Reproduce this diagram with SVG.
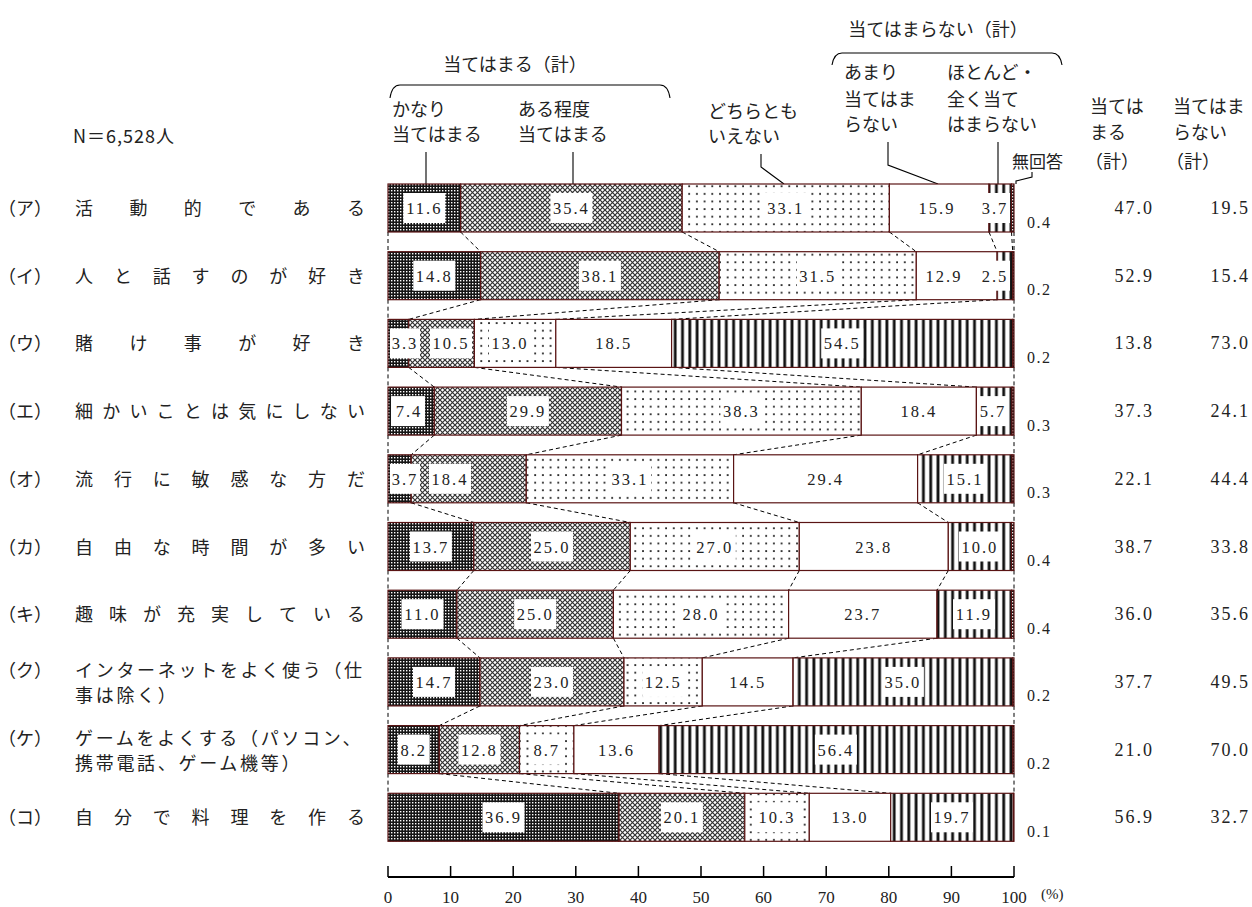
<svg xmlns="http://www.w3.org/2000/svg" width="1252" height="907" viewBox="0 0 1252 907">
<style>
.jp{font-family:"Noto Sans CJK JP",sans-serif;font-size:18px;fill:#222}
.jps{font-family:"Noto Sans CJK JP",sans-serif;font-size:18px;fill:#222;letter-spacing:2.7px}
.num{font-family:"Liberation Serif","Noto Sans CJK JP",serif;font-size:16.5px;letter-spacing:2px;text-anchor:middle;fill:#222}
.rv{font-family:"Liberation Serif",serif;font-size:18px;letter-spacing:2px;text-anchor:end;fill:#222}
.na{font-family:"Liberation Serif",serif;font-size:16px;letter-spacing:1.5px;fill:#222}
.ax{font-family:"Liberation Serif",serif;font-size:17px;text-anchor:middle;fill:#222}
.s{stroke:#5a1414;stroke-width:1.2}
.a{fill:url(#pA)}.b{fill:url(#pB)}.c{fill:url(#pC)}.d{fill:#fff}.e{fill:url(#pD)}.f{fill:url(#pA)}
.box{fill:#fff}
.dash{stroke:#000;stroke-width:1;stroke-dasharray:4 3;fill:none}
.lead{stroke:#000;stroke-width:1.1;fill:none}
</style>
<defs>
<pattern id="pA" width="3" height="3" patternUnits="userSpaceOnUse"><rect width="3" height="3" fill="#151515"/><rect x="1" y="1" width="1.4" height="1.4" fill="#fff"/></pattern>
<pattern id="pB" width="5" height="5" patternUnits="userSpaceOnUse"><rect width="5" height="5" fill="#fff"/><path d="M0 0L5 5M5 0L0 5" stroke="#333" stroke-width="1.2"/></pattern>
<pattern id="pC" width="7.7" height="7.6" patternUnits="userSpaceOnUse"><rect width="7.7" height="7.6" fill="#fff"/><rect x="3" y="3" width="1.8" height="1.8" fill="#222"/></pattern>
<pattern id="pD" width="7.3" height="10" patternUnits="userSpaceOnUse"><rect width="7.3" height="10" fill="#fff"/><rect x="1.8" width="3.6" height="10" fill="#888"/><rect x="2.6" width="2" height="10" fill="#111"/></pattern>
</defs>
<rect width="1252" height="907" fill="#fff"/>

<g id="header">
<text class="jp" x="938" y="36" text-anchor="middle">当てはまらない（計）</text>
<path class="lead" d="M832 65Q834 53 842 53L1052 53Q1060 53 1062 65"/>
<text class="jp" x="515" y="71" text-anchor="middle">当てはまる（計）</text>
<path class="lead" d="M390 98Q392 85 400 85L660 85Q668 85 670 98"/>
<text class="jp" x="392" y="116">かなり</text>
<text class="jp" x="392" y="141">当てはまる</text>
<text class="jp" x="518" y="116">ある程度</text>
<text class="jp" x="518" y="141">当てはまる</text>
<text class="jp" x="708" y="118">どちらとも</text>
<text class="jp" x="708" y="143">いえない</text>
<text class="jp" x="844" y="79">あまり</text>
<text class="jp" x="844" y="106">当てはま</text>
<text class="jp" x="844" y="131">らない</text>
<text class="jp" x="947" y="79">ほとんど・</text>
<text class="jp" x="947" y="106">全く当て</text>
<text class="jp" x="947" y="131">はまらない</text>
<text class="jp" x="1012" y="168" style="font-size:17px">無回答</text>
<text class="jp" x="1090" y="113">当ては</text>
<text class="jp" x="1090" y="139">まる</text>
<text class="jp" x="1085" y="168">（計）</text>
<text class="jp" x="1173" y="113">当てはま</text>
<text class="jp" x="1173" y="139">らない</text>
<text class="jp" x="1166" y="168">（計）</text>
<text class="jp" x="73" y="143" style="letter-spacing:1px">N＝6,528人</text>
</g>

<g id="connectors">
<path class="lead" d="M426 152V184M573 152V184M761 154V167L784 184M888 142V165L938 184M998 142V184M1032 172V177L1016 181V184"/>
<path class="dash" d="M388 232V251.7M460.6 232L480.6 251.7M682.2 232L719.2 251.7M889.4 232L916.3 251.7M989 232L997.1 251.7M1011.5 232L1012.7 251.7M1014 232V251.7
M388 299.7V319.4M480.6 299.7L408.7 319.4M719.2 299.7L474.4 319.4M916.3 299.7L555.8 319.4M997.1 299.7L671.6 319.4M1014 299.7V319.4
M388 367.4V387.1M408.7 367.4L434.3 387.1M474.4 367.4L621.5 387.1M555.8 367.4L861.3 387.1M671.6 367.4L976.4 387.1M1014 367.4V387.1
M388 435.1V454.8M434.3 435.1L411.2 454.8M621.5 435.1L526.3 454.8M861.3 435.1L733.6 454.8M976.4 435.1L917.6 454.8M1014 435.1V454.8
M388 502.8V522.5M411.2 502.8L473.8 522.5M526.3 502.8L630.3 522.5M733.6 502.8L799.3 522.5M917.6 502.8L948.3 522.5M1014 502.8V522.5
M388 570.5V590.2M473.8 570.5L456.9 590.2M630.3 570.5L613.4 590.2M799.3 570.5L788.6 590.2M948.3 570.5L937 590.2M1014 570.5V590.2
M388 638.2V657.9M456.9 638.2L480 657.9M613.4 638.2L624 657.9M788.6 638.2L702.3 657.9M937 638.2L793 657.9M1014 638.2V657.9
M388 705.9V725.6M480 705.9L439.3 725.6M624 705.9L519.5 725.6M702.3 705.9L573.9 725.6M793 705.9L659.1 725.6M1014 705.9V725.6
M388 773.6V793.3M439.3 773.6L619 793.3M519.5 773.6L744.8 793.3M573.9 773.6L809.3 793.3M659.1 773.6L890.7 793.3M1014 773.6V793.3"/>
</g>

<g id="row-a">
<text class="jp" x="-2" y="215">（ア）</text>
<text class="jp" x="75 129.4 183.8 238.2 292.6 347" y="215">活動的である</text>
<rect class="s a" x="388" y="184" width="72.6" height="48"/><rect class="s b" x="460.6" y="184" width="221.6" height="48"/><rect class="s c" x="682.2" y="184" width="207.2" height="48"/><rect class="s d" x="889.4" y="184" width="99.6" height="48"/><rect class="s e" x="989" y="184" width="22.5" height="48"/><rect class="s f" x="1011.5" y="184" width="2.5" height="48"/>
<rect class="box" x="403.3" y="193" width="42" height="30"/><text class="num" x="424.3" y="214">11.6</text>
<rect class="box" x="550.4" y="193" width="42" height="30"/><text class="num" x="571.4" y="214">35.4</text>
<rect class="box" x="764.8" y="193" width="42" height="30"/><text class="num" x="785.8" y="214">33.1</text>
<text class="num" x="937" y="214">15.9</text>
<rect class="box" x="980" y="193" width="30" height="30"/><text class="num" x="995" y="214">3.7</text>
<text class="na" x="1027" y="227.5">0.4</text>
<text class="rv" x="1154" y="214">47.0</text><text class="rv" x="1250" y="214">19.5</text>
</g>

<g id="row-i">
<text class="jp" x="-2" y="282.7">（イ）</text>
<text class="jp" x="75 113.9 152.7 191.6 230.4 269.3 308.1 347" y="282.7">人と話すのが好き</text>
<rect class="s a" x="388" y="251.7" width="92.6" height="48"/><rect class="s b" x="480.6" y="251.7" width="238.6" height="48"/><rect class="s c" x="719.2" y="251.7" width="197.1" height="48"/><rect class="s d" x="916.3" y="251.7" width="80.8" height="48"/><rect class="s e" x="997.1" y="251.7" width="15.6" height="48"/><rect class="s f" x="1012.7" y="251.7" width="1.3" height="48"/>
<rect class="box" x="413.3" y="260.7" width="42" height="30"/><text class="num" x="434.3" y="281.7">14.8</text>
<rect class="box" x="578.9" y="260.7" width="42" height="30"/><text class="num" x="599.9" y="281.7">38.1</text>
<rect class="box" x="796.8" y="260.7" width="42" height="30"/><text class="num" x="817.8" y="281.7">31.5</text>
<text class="num" x="944" y="281.7">12.9</text>
<rect class="box" x="980" y="260.7" width="30" height="30"/><text class="num" x="995" y="281.7">2.5</text>
<text class="na" x="1027" y="295.2">0.2</text>
<text class="rv" x="1154" y="281.7">52.9</text><text class="rv" x="1250" y="281.7">15.4</text>
</g>

<g id="row-u">
<text class="jp" x="-2" y="350.4">（ウ）</text>
<text class="jp" x="75 129.4 183.8 238.2 292.6 347" y="350.4">賭け事が好き</text>
<rect class="s a" x="388" y="319.4" width="20.7" height="48"/><rect class="s b" x="408.7" y="319.4" width="65.7" height="48"/><rect class="s c" x="474.4" y="319.4" width="81.4" height="48"/><rect class="s d" x="555.8" y="319.4" width="115.8" height="48"/><rect class="s e" x="671.6" y="319.4" width="341.1" height="48"/><rect class="s f" x="1012.7" y="319.4" width="1.3" height="48"/>
<rect class="box" x="390" y="328.4" width="30" height="30"/><text class="num" x="405" y="349.4">3.3</text>
<rect class="box" x="430" y="328.4" width="42" height="30"/><text class="num" x="451" y="349.4">10.5</text>
<rect class="box" x="489" y="328.4" width="42" height="30"/><text class="num" x="510" y="349.4">13.0</text>
<text class="num" x="613.7" y="349.4">18.5</text>
<rect class="box" x="821.2" y="328.4" width="42" height="30"/><text class="num" x="842.2" y="349.4">54.5</text>
<text class="na" x="1027" y="362.9">0.2</text>
<text class="rv" x="1154" y="349.4">13.8</text><text class="rv" x="1250" y="349.4">73.0</text>
</g>

<g id="row-e">
<text class="jp" x="-2" y="418.1">（エ）</text>
<text class="jp" x="75 102.2 129.4 156.6 183.8 211 238.2 265.4 292.6 319.8 347" y="418.1">細かいことは気にしない</text>
<rect class="s a" x="388" y="387.1" width="46.3" height="48"/><rect class="s b" x="434.3" y="387.1" width="187.2" height="48"/><rect class="s c" x="621.5" y="387.1" width="239.8" height="48"/><rect class="s d" x="861.3" y="387.1" width="115.1" height="48"/><rect class="s e" x="976.4" y="387.1" width="35.7" height="48"/><rect class="s f" x="1012.1" y="387.1" width="1.9" height="48"/>
<rect class="box" x="391" y="396.1" width="34" height="30"/><text class="num" x="409" y="417.1">7.4</text>
<rect class="box" x="506.9" y="396.1" width="42" height="30"/><text class="num" x="527.9" y="417.1">29.9</text>
<rect class="box" x="720.4" y="396.1" width="42" height="30"/><text class="num" x="741.4" y="417.1">38.3</text>
<text class="num" x="918.9" y="417.1">18.4</text>
<rect class="box" x="978" y="396.1" width="30" height="30"/><text class="num" x="993" y="417.1">5.7</text>
<text class="na" x="1027" y="430.6">0.3</text>
<text class="rv" x="1154" y="417.1">37.3</text><text class="rv" x="1250" y="417.1">24.1</text>
</g>

<g id="row-o">
<text class="jp" x="-2" y="485.8">（オ）</text>
<text class="jp" x="75 113.9 152.7 191.6 230.4 269.3 308.1 347" y="485.8">流行に敏感な方だ</text>
<rect class="s a" x="388" y="454.8" width="23.2" height="48"/><rect class="s b" x="411.2" y="454.8" width="115.1" height="48"/><rect class="s c" x="526.3" y="454.8" width="207.3" height="48"/><rect class="s d" x="733.6" y="454.8" width="184" height="48"/><rect class="s e" x="917.6" y="454.8" width="94.5" height="48"/><rect class="s f" x="1012.1" y="454.8" width="1.9" height="48"/>
<rect class="box" x="390" y="463.8" width="30" height="30"/><text class="num" x="405" y="484.8">3.7</text>
<rect class="box" x="429" y="463.8" width="42" height="30"/><text class="num" x="450" y="484.8">18.4</text>
<rect class="box" x="609" y="463.8" width="42" height="30"/><text class="num" x="630" y="484.8">33.1</text>
<text class="num" x="825.6" y="484.8">29.4</text>
<rect class="box" x="944" y="463.8" width="42" height="30"/><text class="num" x="965" y="484.8">15.1</text>
<text class="na" x="1027" y="498.3">0.3</text>
<text class="rv" x="1154" y="484.8">22.1</text><text class="rv" x="1250" y="484.8">44.4</text>
</g>

<g id="row-ka">
<text class="jp" x="-2" y="553.5">（カ）</text>
<text class="jp" x="75 113.9 152.7 191.6 230.4 269.3 308.1 347" y="553.5">自由な時間が多い</text>
<rect class="s a" x="388" y="522.5" width="85.8" height="48"/><rect class="s b" x="473.8" y="522.5" width="156.5" height="48"/><rect class="s c" x="630.3" y="522.5" width="169" height="48"/><rect class="s d" x="799.3" y="522.5" width="149" height="48"/><rect class="s e" x="948.3" y="522.5" width="63.2" height="48"/><rect class="s f" x="1011.5" y="522.5" width="2.5" height="48"/>
<rect class="box" x="409.9" y="531.5" width="42" height="30"/><text class="num" x="430.9" y="552.5">13.7</text>
<rect class="box" x="531" y="531.5" width="42" height="30"/><text class="num" x="552" y="552.5">25.0</text>
<rect class="box" x="693.8" y="531.5" width="42" height="30"/><text class="num" x="714.8" y="552.5">27.0</text>
<text class="num" x="873.8" y="552.5">23.8</text>
<rect class="box" x="958.9" y="531.5" width="42" height="30"/><text class="num" x="979.9" y="552.5">10.0</text>
<text class="na" x="1027" y="566">0.4</text>
<text class="rv" x="1154" y="552.5">38.7</text><text class="rv" x="1250" y="552.5">33.8</text>
</g>

<g id="row-ki">
<text class="jp" x="-2" y="621.2">（キ）</text>
<text class="jp" x="75 109 143 177 211 245 279 313 347" y="621.2">趣味が充実している</text>
<rect class="s a" x="388" y="590.2" width="68.9" height="48"/><rect class="s b" x="456.9" y="590.2" width="156.5" height="48"/><rect class="s c" x="613.4" y="590.2" width="175.2" height="48"/><rect class="s d" x="788.6" y="590.2" width="148.4" height="48"/><rect class="s e" x="937" y="590.2" width="74.5" height="48"/><rect class="s f" x="1011.5" y="590.2" width="2.5" height="48"/>
<rect class="box" x="401.5" y="599.2" width="42" height="30"/><text class="num" x="422.5" y="620.2">11.0</text>
<rect class="box" x="514.2" y="599.2" width="42" height="30"/><text class="num" x="535.2" y="620.2">25.0</text>
<rect class="box" x="680" y="599.2" width="42" height="30"/><text class="num" x="701" y="620.2">28.0</text>
<text class="num" x="862.8" y="620.2">23.7</text>
<rect class="box" x="953" y="599.2" width="42" height="30"/><text class="num" x="974" y="620.2">11.9</text>
<text class="na" x="1027" y="633.7">0.4</text>
<text class="rv" x="1154" y="620.2">36.0</text><text class="rv" x="1250" y="620.2">35.6</text>
</g>

<g id="row-ku">
<text class="jp" x="-2" y="676.9">（ク）</text>
<text class="jps" x="75" y="676.9">インターネットをよく使う（仕</text>
<text class="jps" x="75" y="701.9">事は除く）</text>
<rect class="s a" x="388" y="657.9" width="92" height="48"/><rect class="s b" x="480" y="657.9" width="144" height="48"/><rect class="s c" x="624" y="657.9" width="78.3" height="48"/><rect class="s d" x="702.3" y="657.9" width="90.7" height="48"/><rect class="s e" x="793" y="657.9" width="219.7" height="48"/><rect class="s f" x="1012.7" y="657.9" width="1.3" height="48"/>
<rect class="box" x="413" y="666.9" width="42" height="30"/><text class="num" x="434" y="687.9">14.7</text>
<rect class="box" x="531" y="666.9" width="42" height="30"/><text class="num" x="552" y="687.9">23.0</text>
<rect class="box" x="642.2" y="666.9" width="42" height="30"/><text class="num" x="663.2" y="687.9">12.5</text>
<text class="num" x="747.7" y="687.9">14.5</text>
<rect class="box" x="881.9" y="666.9" width="42" height="30"/><text class="num" x="902.9" y="687.9">35.0</text>
<text class="na" x="1027" y="701.4">0.2</text>
<text class="rv" x="1154" y="687.9">37.7</text><text class="rv" x="1250" y="687.9">49.5</text>
</g>

<g id="row-ke">
<text class="jp" x="-2" y="744.6">（ケ）</text>
<text class="jps" x="75" y="744.6">ゲームをよくする（パソコン、</text>
<text class="jps" x="75" y="769.6">携帯電話、ゲーム機等）</text>
<rect class="s a" x="388" y="725.6" width="51.3" height="48"/><rect class="s b" x="439.3" y="725.6" width="80.2" height="48"/><rect class="s c" x="519.5" y="725.6" width="54.4" height="48"/><rect class="s d" x="573.9" y="725.6" width="85.2" height="48"/><rect class="s e" x="659.1" y="725.6" width="353.6" height="48"/><rect class="s f" x="1012.7" y="725.6" width="1.3" height="48"/>
<rect class="box" x="397.7" y="734.6" width="32" height="30"/><text class="num" x="413.7" y="755.6">8.2</text>
<rect class="box" x="458.4" y="734.6" width="42" height="30"/><text class="num" x="479.4" y="755.6">12.8</text>
<rect class="box" x="530.7" y="734.6" width="32" height="30"/><text class="num" x="546.7" y="755.6">8.7</text>
<text class="num" x="616.5" y="755.6">13.6</text>
<rect class="box" x="814.9" y="734.6" width="42" height="30"/><text class="num" x="835.9" y="755.6">56.4</text>
<text class="na" x="1027" y="769.1">0.2</text>
<text class="rv" x="1154" y="755.6">21.0</text><text class="rv" x="1250" y="755.6">70.0</text>
</g>

<g id="row-ko">
<text class="jp" x="-2" y="824.3">（コ）</text>
<text class="jp" x="75 113.9 152.7 191.6 230.4 269.3 308.1 347" y="824.3">自分で料理を作る</text>
<rect class="s a" x="388" y="793.3" width="231" height="48"/><rect class="s b" x="619" y="793.3" width="125.8" height="48"/><rect class="s c" x="744.8" y="793.3" width="64.5" height="48"/><rect class="s d" x="809.3" y="793.3" width="81.4" height="48"/><rect class="s e" x="890.7" y="793.3" width="122.7" height="48"/><rect class="s f" x="1013.4" y="793.3" width="0.6" height="48"/>
<rect class="box" x="482.5" y="802.3" width="42" height="30"/><text class="num" x="503.5" y="823.3">36.9</text>
<rect class="box" x="660.9" y="802.3" width="42" height="30"/><text class="num" x="681.9" y="823.3">20.1</text>
<rect class="box" x="756" y="802.3" width="42" height="30"/><text class="num" x="777" y="823.3">10.3</text>
<text class="num" x="850" y="823.3">13.0</text>
<rect class="box" x="931" y="802.3" width="42" height="30"/><text class="num" x="952" y="823.3">19.7</text>
<text class="na" x="1027" y="836.8">0.1</text>
<text class="rv" x="1154" y="823.3">56.9</text><text class="rv" x="1250" y="823.3">32.7</text>
</g>

<g id="axis">
<path d="M388 877H1014" stroke="#000" stroke-width="2"/>
<path d="M388 866V877M450.6 866V877M513.2 866V877M575.8 866V877M638.4 866V877M701 866V877M763.6 866V877M826.2 866V877M888.8 866V877M951.4 866V877M1014 866V877" stroke="#000" stroke-width="1.5"/>
<text class="ax" x="388" y="903">0</text><text class="ax" x="450.6" y="903">10</text><text class="ax" x="513.2" y="903">20</text><text class="ax" x="575.8" y="903">30</text><text class="ax" x="638.4" y="903">40</text><text class="ax" x="701" y="903">50</text><text class="ax" x="763.6" y="903">60</text><text class="ax" x="826.2" y="903">70</text><text class="ax" x="888.8" y="903">80</text><text class="ax" x="951.4" y="903">90</text><text class="ax" x="1014" y="903">100</text>
<text class="na" x="1041" y="899" style="font-size:15px;letter-spacing:0">(%)</text>
</g>
</svg>
